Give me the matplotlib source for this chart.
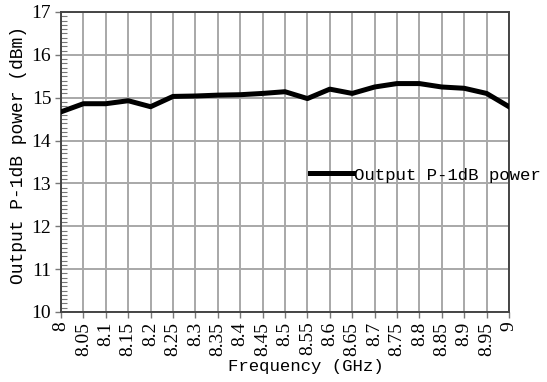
import numpy as np
import matplotlib
matplotlib.use("Agg")
import matplotlib.pyplot as plt
from matplotlib.ticker import MultipleLocator

freq = [8.0, 8.05, 8.1, 8.15, 8.2, 8.25, 8.3, 8.35, 8.4, 8.45, 8.5,
        8.55, 8.6, 8.65, 8.7, 8.75, 8.8, 8.85, 8.9, 8.95, 9.0]
power = [14.67, 14.86, 14.86, 14.93, 14.79, 15.03, 15.04, 15.06, 15.07, 15.10, 15.14,
         14.98, 15.20, 15.10, 15.25, 15.33, 15.33, 15.25, 15.22, 15.10, 14.79]
xtick_labels = ['8', '8.05', '8.1', '8.15', '8.2', '8.25', '8.3', '8.35', '8.4', '8.45', '8.5',
                '8.55', '8.6', '8.65', '8.7', '8.75', '8.8', '8.85', '8.9', '8.95', '9']
yticks = [10, 11, 12, 13, 14, 15, 16, 17]
series_name = 'Output P-1dB power'

fig = plt.figure(figsize=(5.47, 3.82), dpi=100)
ax = fig.add_axes([61/547, 1-312/382, (509-61)/547, (312-12)/382])

ax.plot(freq, power, color='black', linewidth=3.6, label=series_name,
        solid_joinstyle='round', zorder=3)

ax.set_xlim(8.0, 9.0)
ax.set_ylim(10, 17)
ax.set_xticks(freq)
ax.set_xticklabels(xtick_labels, rotation=90, family='Liberation Serif', fontsize=14)
ax.set_yticks(yticks)
ax.set_yticklabels([str(v) for v in yticks], family='Liberation Serif', fontsize=14)
ax.yaxis.set_minor_locator(MultipleLocator(0.1))
ax.tick_params(axis='y', which='minor', direction='in', length=4, width=0.8, color='#777777')
ax.tick_params(axis='both', which='major', direction='out', length=4, width=1, color='#777777', pad=3)

ax.grid(True, which='major', color='#a8a8a8', linewidth=1.4)
for s in ax.spines.values():
    s.set_color('#444444')
    s.set_linewidth(1.4)

fig.text(306/547, 1-366/382, 'Frequency (GHz)', family='Liberation Mono', fontsize=12.5,
         ha='center', va='center')
ax.set_ylabel('Output P-1dB power (dBm)', family='Liberation Mono', fontsize=13)
ax.yaxis.set_label_coords((27-61)/448, 1-(155-12)/300)

leg = ax.legend(loc='center left', bbox_to_anchor=((310-61)/448, 1-(175-12)/300),
                frameon=False, handlelength=2.5, handletextpad=0.05, borderpad=0,
                borderaxespad=0, prop={'family': 'Liberation Mono', 'size': 12.5})

fig.savefig('out.png', dpi=100)
